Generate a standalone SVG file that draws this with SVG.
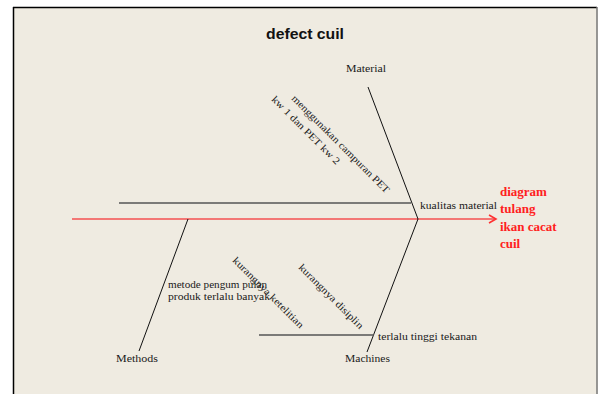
<svg xmlns="http://www.w3.org/2000/svg" width="598" height="394" viewBox="0 0 598 394">
<defs>
<style>
.lbl{font-family:"Liberation Serif","Times New Roman",serif;font-size:11px;fill:#1a1a1a}
.sm{font-family:"Liberation Serif","Times New Roman",serif;font-size:10px;fill:#1a1a1a}
.red{font-family:"Liberation Serif","Times New Roman",serif;font-size:13px;font-weight:bold;fill:#ff2020}
.title{font-family:"Liberation Sans",Arial,sans-serif;font-size:14px;font-weight:bold;fill:#111}
.bone{stroke:#111;stroke-width:1;fill:none}
.branch{stroke:#555;stroke-width:1.6;fill:none}
</style>
<marker id="arr" markerWidth="10" markerHeight="10" refX="8" refY="5" orient="auto" markerUnits="userSpaceOnUse">
<path d="M1,1 L8,5 L1,9" fill="none" stroke="#ff3030" stroke-width="1.6"/>
</marker>
</defs>
<rect x="0" y="0" width="598" height="394" fill="#ffffff"/>
<rect x="13.5" y="7.5" width="584" height="390" fill="#efebe1" stroke="none"/>
<line x1="13.5" y1="7" x2="13.5" y2="394" stroke="#000" stroke-width="1.5"/>
<line x1="13" y1="7.5" x2="597" y2="7.5" stroke="#000" stroke-width="1.5"/>
<line x1="597" y1="7" x2="597" y2="394" stroke="#777" stroke-width="1.5"/>
<text class="title" x="266" y="39" textLength="78" lengthAdjust="spacingAndGlyphs">defect cuil</text>
<g id="connectors">
<line x1="72" y1="219" x2="496" y2="219" stroke="#f55050" stroke-width="1.6" marker-end="url(#arr)"/>
<line class="bone" x1="368" y1="87" x2="418" y2="219"/>
<line class="bone" x1="418" y1="219" x2="367" y2="352"/>
<line class="bone" x1="188" y1="219" x2="139" y2="351"/>
<line class="branch" x1="119" y1="203" x2="411" y2="203"/>
<line class="branch" x1="259" y1="335" x2="374" y2="335"/>
</g>
<g id="material">
<text class="lbl" x="346" y="72" textLength="40" lengthAdjust="spacingAndGlyphs">Material</text>
</g>
<g id="methods">
<text class="lbl" x="116" y="362" textLength="42" lengthAdjust="spacingAndGlyphs">Methods</text>
</g>
<g id="machines">
<text class="lbl" x="345" y="362" textLength="45" lengthAdjust="spacingAndGlyphs">Machines</text>
</g>
<g id="effect">
<text class="red" x="500" y="196">diagram</text>
<text class="red" x="500" y="213">tulang</text>
<text class="red" x="500" y="231">ikan cacat</text>
<text class="red" x="500" y="248">cuil</text>
</g>
<g id="kualitas-material">
<text class="sm" x="420" y="209" textLength="77" lengthAdjust="spacingAndGlyphs">kualitas material</text>
</g>
<g id="campuran-pet">
<text class="sm" transform="translate(291,99) rotate(45)" textLength="134" lengthAdjust="spacingAndGlyphs">menggunakan campuran PET</text>
<text class="sm" transform="translate(271,100) rotate(45)" textLength="92" lengthAdjust="spacingAndGlyphs">kw 1 dan PET kw 2</text>
</g>
<g id="metode">
<text class="sm" x="168" y="288" textLength="99" lengthAdjust="spacingAndGlyphs">metode pengum pulan</text>
<text class="sm" x="168" y="300" textLength="102" lengthAdjust="spacingAndGlyphs">produk terlalu banyak</text>
</g>
<g id="sub-left">
<text class="sm" transform="translate(232,261) rotate(45)" textLength="96" lengthAdjust="spacingAndGlyphs">kurangnya ketelitian</text>
</g>
<g id="sub-right">
<text class="sm" transform="translate(298,268) rotate(45)" textLength="87" lengthAdjust="spacingAndGlyphs">kurangnya disiplin</text>
</g>
<g id="tekanan">
<text class="sm" x="378" y="340" textLength="99" lengthAdjust="spacingAndGlyphs">terlalu tinggi tekanan</text>
</g>
</svg>
